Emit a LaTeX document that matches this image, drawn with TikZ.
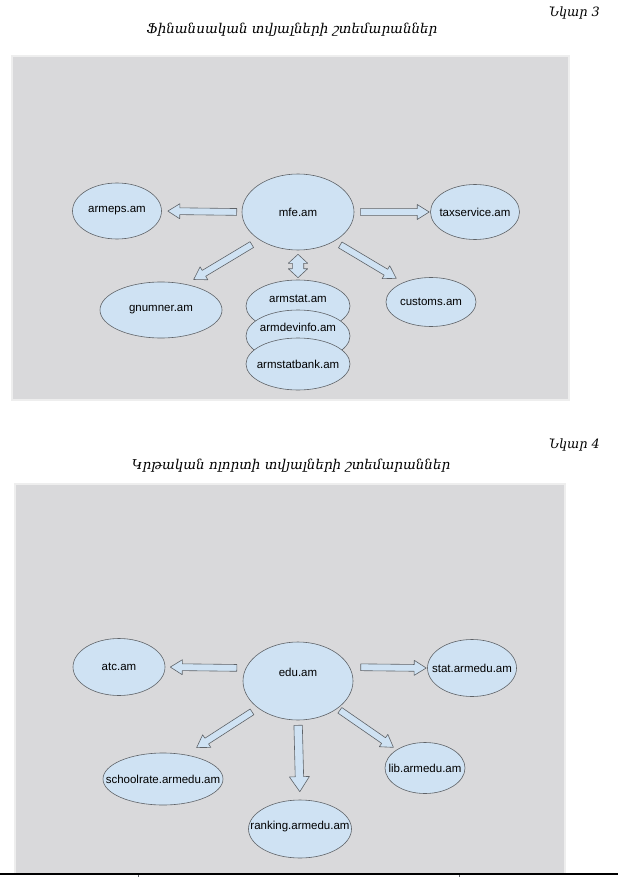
\documentclass[tikz,border=0pt]{standalone}
\usepackage{fontspec}
\setsansfont{Liberation Sans}
\newfontfamily\armfont{DejaVu Serif}
\usetikzlibrary{shapes.geometric,calc}

\definecolor{panelgray}{HTML}{D9D9DB}
\definecolor{panelrim}{HTML}{EEEEEE}
\definecolor{bubble}{HTML}{CFE2F3}
\definecolor{rim}{HTML}{5F6368}

\newcommand\shaftw{3.4pt}
\newcommand\headw{7.5pt}
\newcommand\headl{12pt}
\newcommand\lbl[1]{\makebox[0pt]{#1}}

\newcommand\fatarrow[4]{%
	\coordinate (fa-s) at ($(#1)!#3!(#2)$);
	\coordinate (fa-t) at ($(#2)!#4!(#1)$);
	\coordinate (fa-n) at ($(fa-t)!\headl!(fa-s)$);
	\draw[blockarrow] ($(fa-s)!\shaftw!90:(fa-t)$) -- ($(fa-n)!\shaftw!90:(fa-t)$)
		-- ($(fa-n)!\headw!90:(fa-t)$) -- (fa-t) -- ($(fa-n)!\headw!-90:(fa-t)$)
		-- ($(fa-n)!\shaftw!-90:(fa-t)$) -- ($(fa-s)!\shaftw!-90:(fa-t)$) -- cycle;}

\newcommand\dblarrow[4]{%
	\coordinate (fa-s) at ($(#1)!#3!(#2)$);
	\coordinate (fa-t) at ($(#2)!#4!(#1)$);
	\coordinate (fa-m) at ($(fa-s)!\headl!(fa-t)$);
	\coordinate (fa-n) at ($(fa-t)!\headl!(fa-s)$);
	\draw[blockarrow] (fa-s) -- ($(fa-m)!\headw!90:(fa-t)$) -- ($(fa-m)!\shaftw!90:(fa-t)$)
		-- ($(fa-n)!\shaftw!90:(fa-t)$) -- ($(fa-n)!\headw!90:(fa-t)$) -- (fa-t)
		-- ($(fa-n)!\headw!-90:(fa-t)$) -- ($(fa-n)!\shaftw!-90:(fa-t)$)
		-- ($(fa-m)!\shaftw!-90:(fa-t)$) -- ($(fa-m)!\headw!-90:(fa-t)$) -- cycle;}

\begin{document}
\begin{tikzpicture}[x=1pt, y=-1pt,
	site/.style={ellipse, draw=rim, fill=bubble, line width=.6pt, inner sep=0pt,
		font=\sffamily\fontsize{11.5}{13}\selectfont},
	lift/.style={text depth=#1},
	blockarrow/.style={draw=rim, fill=bubble, line width=.6pt, line join=round},
	panel/.style={fill=panelgray, draw=panelrim, line width=2pt},
	caption/.style={font=\armfont\itshape\fontsize{13.5}{15}\selectfont, inner sep=0pt}]
	\useasboundingbox (0,0) rectangle (618,877);
	\fill[white] (0,0) rectangle (618,877);

	\node[caption, font=\armfont\itshape\fontsize{12.8}{15}\selectfont, anchor=east] (fig3) at (600,13) {Նկար 3};
	\node[caption] (title3) at (292,30) {Ֆինանսական տվյալների շտեմարաններ};
	\draw[panel] (12,56) rectangle (569,400);

	\node[site, minimum width=112, minimum height=76] (mfe) at (298,212) {\lbl{mfe.am}};
	\node[site, minimum width=89, minimum height=56] (armeps) at (117,211) {\lbl{armeps.am}};
	\node[site, minimum width=89, minimum height=55] (taxservice) at (475,212) {\lbl{taxservice.am}};
	\node[site, minimum width=122, minimum height=56] (gnumner) at (161,310) {\lbl{gnumner.am}};
	\node[site, minimum width=90, minimum height=49] (customs) at (431,302) {\lbl{customs.am}};
	\node[site, minimum width=104, minimum height=52, lift=14pt] (armstat) at (298,306) {\lbl{armstat.am}};
	\node[site, minimum width=104, minimum height=52, lift=18pt] (armdevinfo) at (298,336) {\lbl{armdevinfo.am}};
	\node[site, minimum width=104, minimum height=52] (armstatbank) at (298,364) {\lbl{armstatbank.am}};

	\fatarrow{mfe.west}{armeps.east}{5pt}{6pt}
	\fatarrow{mfe.east}{taxservice.west}{6pt}{1pt}
	\fatarrow{mfe.216}{gnumner.46}{9pt}{9pt}
	\fatarrow{mfe.321}{customs.145}{7pt}{8pt}
	\begin{scope}
		\renewcommand\shaftw{5.7pt}
		\renewcommand\headw{9.7pt}
		\renewcommand\headl{9pt}
		\dblarrow{mfe.south}{armstat.north}{4pt}{2pt}
	\end{scope}

	\node[caption, font=\armfont\itshape\fontsize{12.8}{15}\selectfont, anchor=east] (fig4) at (600,445) {Նկար 4};
	\node[caption] (title4) at (291,466) {Կրթական ոլորտի տվյալների շտեմարաններ};
	\draw[panel] (15,484) rectangle (565,874);

	\node[site, minimum width=110, minimum height=78, lift=18pt] (edu) at (298,681) {\lbl{edu.am}};
	\node[site, minimum width=92, minimum height=57] (atc) at (119,667) {\lbl{atc.am}};
	\node[site, minimum width=89, minimum height=57] (stat) at (472,668) {\lbl{stat.armedu.am}};
	\node[site, minimum width=120, minimum height=52] (schoolrate) at (163,779) {\lbl{schoolrate.armedu.am}};
	\node[site, minimum width=80, minimum height=51] (lib) at (425,768) {\lbl{lib.armedu.am}};
	\node[site, minimum width=103, minimum height=58, lift=8pt] (ranking) at (300,829) {\lbl{ranking.armedu.am}};

	\fatarrow{edu.166}{atc.east}{9pt}{5pt}
	\fatarrow{edu.15}{stat.west}{11pt}{1pt}
	\fatarrow{edu.214}{schoolrate.47}{7pt}{13pt}
	\fatarrow{edu.325}{lib.147}{3pt}{4pt}
	\begin{scope}
		\renewcommand\shaftw{4.2pt}
		\renewcommand\headw{10pt}
		\renewcommand\headl{15pt}
		\fatarrow{edu.south}{ranking.north}{5pt}{8pt}
	\end{scope}

	\draw[line width=1.5pt] (0,874) -- (618,874);
	\draw[line width=.8pt, rim] (138,875) -- (138,877) (459,875) -- (459,877);
\end{tikzpicture}
\end{document}
